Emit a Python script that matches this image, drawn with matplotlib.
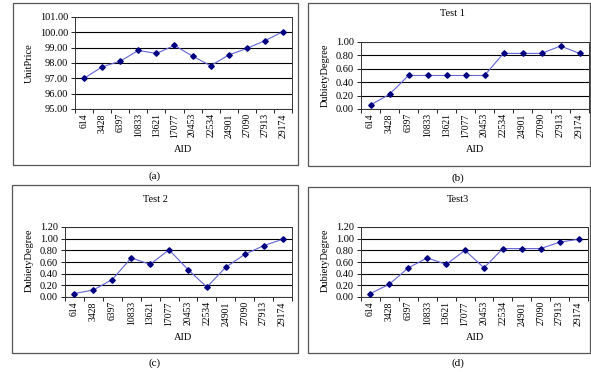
import matplotlib
matplotlib.use('Agg')
import matplotlib.pyplot as plt
from matplotlib.patches import Rectangle
from matplotlib.ticker import FixedLocator, FormatStrFormatter

plt.rcParams['font.family'] = ['Liberation Serif', 'DejaVu Serif']

# 数据
aid = ['614', '3428', '6397', '10833', '13621', '17077', '20453',
       '22534', '24901', '27090', '27913', '29174']
unit_price = [97.00, 97.75, 98.12, 98.82, 98.62, 99.15, 98.45, 97.82, 98.52, 98.95, 99.45, 100.05]
test1 = [0.06, 0.22, 0.50, 0.50, 0.50, 0.50, 0.50, 0.83, 0.83, 0.83, 0.94, 0.83]
test2 = [0.06, 0.12, 0.30, 0.67, 0.56, 0.81, 0.47, 0.17, 0.51, 0.73, 0.88, 0.99]
test3 = [0.06, 0.22, 0.50, 0.67, 0.56, 0.80, 0.50, 0.83, 0.83, 0.83, 0.94, 0.99]

W, H = 591, 372
fig = plt.figure(figsize=(W / 100, H / 100), dpi=100)
fig.patch.set_facecolor('white')


def px_rect(l, t, r, b):
    return [l / W, 1 - b / H, (r - l) / W, (b - t) / H]


def ftext(x, y, s, **kw):
    fig.text(x / W, 1 - y / H, s, ha='center', va='center', **kw)


def panel(box, plot, values, ylim, ystep, ylabel, title, title_pos,
          ylabel_pos, aid_pos, caption, cap_pos):
    # 外框
    l, t, r, b = box
    fig.patches.append(Rectangle((l / W, 1 - b / H), (r - l) / W, (b - t) / H,
                                 transform=fig.transFigure, fill=False,
                                 edgecolor='#555555', linewidth=0.9))
    ax = fig.add_axes(px_rect(*plot))
    x = list(range(len(aid)))
    ax.plot(x, values, color='#6464d8', linewidth=0.8, marker='D',
            markersize=2.8, markerfacecolor='#000080', markeredgecolor='#000080',
            zorder=3)
    ax.set_xlim(-0.5, len(aid) - 0.5)
    ax.set_ylim(*ylim)
    yt = []
    v = ylim[0]
    while v <= ylim[1] + 1e-9:
        yt.append(round(v, 2))
        v += ystep
    ax.set_yticks(yt)
    ax.yaxis.set_major_formatter(FormatStrFormatter('%.2f'))
    ax.grid(axis='y', color='black', linewidth=0.8)
    ax.set_axisbelow(True)
    ax.set_xticks(x)
    ax.set_xticklabels(aid, rotation=90)
    ax.xaxis.set_minor_locator(FixedLocator([i - 0.5 for i in range(len(aid) + 1)]))
    ax.tick_params(axis='x', which='major', length=0, pad=3, labelsize=7)
    ax.tick_params(axis='x', which='minor', length=3, width=0.6, direction='out')
    ax.tick_params(axis='y', length=3, width=0.6, labelsize=7.5, pad=2)
    for s in ax.spines.values():
        s.set_color('#333333')
        s.set_linewidth(0.7)
    ftext(*ylabel_pos, ylabel, rotation=90, fontsize=7.5)
    ftext(*aid_pos, 'AID', fontsize=7.5)
    if title:
        ftext(*title_pos, title, fontsize=7.5)
    ftext(*cap_pos, caption, fontsize=8)
    return ax


panel((13, 3, 298, 165), (75, 17, 292, 109), unit_price, (95, 101), 1.0,
      'UnitPrice', None, None, (29, 63), (183, 150), '(a)', (155, 176))
panel((308, 3, 590, 166), (361, 42, 589, 109), test1, (0, 1.0), 0.2,
      'DubietyDegree', 'Test 1', (452, 14), (325, 75), (475, 150), '(b)', (458, 178))
panel((12, 185, 298, 353), (65, 227, 292, 297), test2, (0, 1.2), 0.2,
      'DubietyDegree', 'Test 2', (155, 199), (29, 260), (183, 337), '(c)', (155, 363))
panel((308, 187, 590, 353), (361, 227, 588, 297), test3, (0, 1.2), 0.2,
      'DubietyDegree', 'Test3', (458, 199), (325, 260), (475, 337), '(d)', (458, 363))

fig.savefig('out.png', dpi=100, facecolor='white')
